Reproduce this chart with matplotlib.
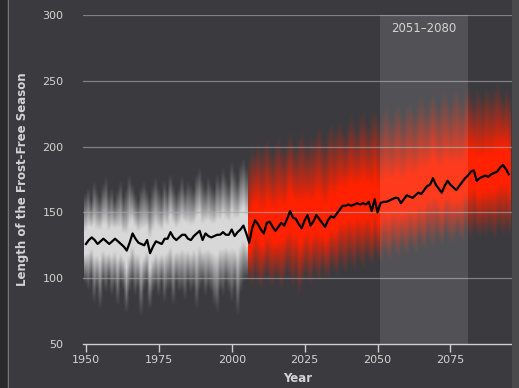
import numpy as np
import matplotlib
matplotlib.use("Agg")
import matplotlib.pyplot as plt
from matplotlib.patches import Rectangle

# ---------------- data ----------------
hist_years = np.arange(1950, 2006)
hist_mean = [126, 129, 131, 129, 126, 128, 130, 128, 126, 128,
             130, 128, 126, 124, 121, 127, 134, 130, 127, 126,
             125, 129, 119, 124, 128, 127, 126, 130, 130, 135,
             131, 129, 131, 133, 133, 130, 129, 132, 134, 136,
             129, 134, 132, 131, 132, 133, 133, 135, 133, 133,
             137, 132, 135, 137, 140, 134]
hist_hi = [165, 170, 160, 175, 168, 162, 172, 178, 165, 170,
           160, 168, 175, 163, 170, 180, 172, 165, 160, 170,
           175, 168, 162, 172, 178, 170, 165, 175, 168, 180,
           172, 165, 170, 178, 168, 175, 172, 168, 180, 185,
           175, 170, 178, 172, 168, 180, 175, 185, 178, 172,
           190, 182, 175, 188, 192, 185]
hist_lo = [95, 90, 98, 80, 92, 75, 95, 88, 98, 85,
           92, 78, 95, 90, 72, 88, 95, 85, 92, 70,
           90, 95, 75, 88, 92, 85, 95, 80, 90, 92,
           78, 95, 88, 90, 82, 95, 88, 92, 75, 90,
           95, 85, 92, 88, 78, 72, 90, 85, 95, 88,
           80, 92, 70, 88, 95, 98]

fut_years = np.arange(2006, 2096)
fut_mean = [127, 138, 144, 141, 137, 134, 142, 143, 139, 136,
            139, 142, 140, 145, 151, 146, 145, 141, 138, 144,
            148, 140, 143, 148, 145, 142, 139, 144, 147, 146,
            149, 152, 155, 155, 156, 155, 156, 157, 156, 157,
            156, 158, 151, 160, 150, 157, 158, 158, 159, 160,
            161, 161, 157, 160, 163, 162, 161, 163, 165, 164,
            167, 170, 171, 176, 171, 168, 165, 170, 174, 171,
            169, 167, 170, 173, 176, 178, 181, 182, 174, 176,
            177, 178, 177, 179, 180, 181, 184, 186, 183, 179]
fut_hi = [192, 200, 196, 205, 198, 202, 208, 200, 195, 204,
          210, 202, 198, 206, 212, 204, 200, 208, 214, 205,
          200, 210, 206, 212, 218, 208, 204, 214, 220, 212,
          216, 222, 214, 210, 220, 226, 218, 214, 224, 228,
          220, 216, 226, 230, 222, 218, 228, 232, 224, 220,
          230, 234, 226, 222, 232, 236, 228, 226, 236, 240,
          232, 228, 238, 242, 234, 230, 240, 244, 236, 232,
          242, 246, 238, 234, 244, 248, 240, 236, 246, 242,
          238, 248, 244, 240, 246, 250, 242, 238, 246, 240]
fut_lo = [98, 92, 100, 95, 90, 98, 102, 94, 92, 100,
          96, 90, 98, 104, 96, 92, 100, 86, 94, 102,
          98, 94, 104, 100, 96, 106, 100, 98, 108, 104,
          100, 110, 106, 102, 112, 108, 104, 114, 110, 106,
          116, 112, 108, 118, 114, 110, 120, 116, 112, 122,
          118, 114, 124, 120, 116, 126, 122, 118, 128, 124,
          120, 130, 126, 122, 132, 128, 124, 134, 130, 126,
          128, 134, 130, 126, 136, 132, 128, 136, 132, 130,
          134, 130, 136, 132, 128, 136, 134, 130, 136, 132]

period_start, period_end = 2051, 2081
period_label = "2051–2080"
x_ticks = [1950, 1975, 2000, 2025, 2050, 2075]
y_ticks = [50, 100, 150, 200, 250, 300]

# ---------------- figure ----------------
BG = "#3b3b3f"
TXT = "#d4d4d4"
fig = plt.figure(figsize=(5.19, 3.88), dpi=100, facecolor=BG)
fig.patches.append(Rectangle((0, 0), 7 / 519, 1, transform=fig.transFigure,
                             facecolor="#2a2a2d", edgecolor="none", zorder=0))
fig.patches.append(Rectangle((7.5 / 519, 0), 1.2 / 519, 1, transform=fig.transFigure,
                             facecolor="#77777a", edgecolor="none", zorder=0))
fig.patches.append(Rectangle((512 / 519, 0), 7 / 519, 1, transform=fig.transFigure,
                             facecolor="#4a4a4d", edgecolor="none", zorder=0))

ax = fig.add_axes([83 / 519, 1 - 344 / 388, (511.7 - 83) / 519, (344 - 15) / 388])
ax.set_facecolor(BG)
YMIN, YMAX = 50, 300


def soft_band(years, mean, hi, lo, rgb, peak=1.0, core=0.35, gamma=1.3, z=2):
    """Blurred spread band rendered as an image in data coordinates."""
    mean = np.asarray(mean, float)[None, :]
    hi = np.asarray(hi, float)[None, :]
    lo = np.asarray(lo, float)[None, :]
    v = np.linspace(YMIN, YMAX, 501)[:, None]
    d = np.where(v >= mean, (v - mean) / (hi - mean), (mean - v) / (mean - lo))
    t = np.clip((d - core) / (1 - core), 0, 1)
    a = peak * (1 - t) ** gamma
    img = np.zeros((v.shape[0], mean.shape[1], 4))
    img[..., 0], img[..., 1], img[..., 2] = rgb
    img[..., 3] = a
    ax.imshow(img, origin="lower", aspect="auto", interpolation="bilinear",
              extent=(years[0] - 0.5, years[-1] + 0.5, YMIN, YMAX), zorder=z)


soft_band(hist_years, hist_mean, hist_hi, hist_lo, (0.88, 0.88, 0.88),
          peak=0.96, core=0.25, gamma=1.2)
soft_band(fut_years, fut_mean, fut_hi, fut_lo, (1.0, 0.13, 0.0),
          peak=1.0, core=0.25, gamma=1.1)
ax.set_xlim(1949, 2096)
ax.set_ylim(YMIN, YMAX)

# grid lines
for yv in y_ticks[1:]:
    ax.axhline(yv, color="#a8a8a8", lw=0.9, alpha=0.65, zorder=3)

# highlighted period
ax.axvspan(period_start, period_end, color="#ffffff", alpha=0.12, lw=0, zorder=4)
ax.text((period_start + period_end) / 2, 290, period_label, color=TXT,
        fontsize=8.5, ha="center", va="center", zorder=6)

# ensemble mean
years = np.concatenate([hist_years, fut_years])
mean = np.concatenate([hist_mean, fut_mean])
ax.plot(years, mean, color="black", lw=1.6, zorder=5)

# axes styling
for s in ["top", "right", "left"]:
    ax.spines[s].set_visible(False)
ax.spines["bottom"].set_color("#cfcfcf")
ax.spines["bottom"].set_linewidth(1.0)
ax.spines["bottom"].set_zorder(6)
ax.set_xticks(x_ticks)
ax.set_yticks(y_ticks)
ax.tick_params(axis="x", colors="#cfcfcf", labelcolor=TXT, length=6, width=1,
               direction="out", pad=2, labelsize=8)
ax.tick_params(axis="y", length=0, pad=14, labelcolor=TXT, labelsize=8)

ax.set_xlabel("Year", color=TXT, fontsize=8.5, fontweight="bold", labelpad=5)
ax.set_ylabel("Length of the Frost-Free Season", color=TXT, fontsize=8.5,
              fontweight="bold", labelpad=10)

fig.savefig("out.png", dpi=100, facecolor=BG)
